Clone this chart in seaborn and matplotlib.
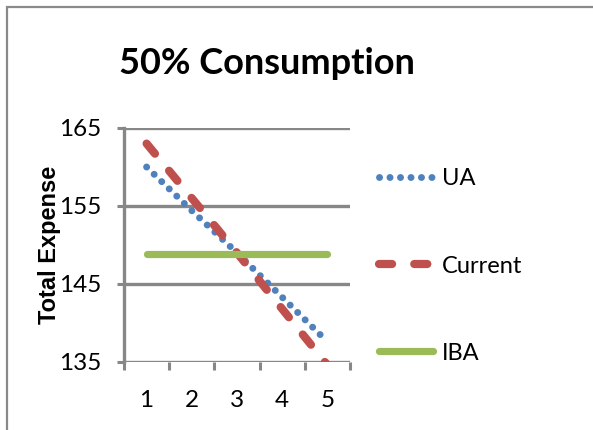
import matplotlib
matplotlib.use("Agg")
import matplotlib.pyplot as plt
import matplotlib.patches as mpatches
import seaborn as sns
import pandas as pd

categories = [1, 2, 3, 4, 5]
ua = [160.0, 154.4, 149.0, 143.3, 137.6]
current = [163.0, 156.0, 149.0, 141.8, 134.6]
iba = [148.8, 148.8, 148.8, 148.8, 148.8]
y_ticks = [135, 145, 155, 165]
title = "50% Consumption"
y_label = "Total Expense"

sns.set_style("white")
plt.rcParams["font.family"] = ["Lato", "DejaVu Sans"]
plt.rcParams["text.color"] = "black"
plt.rcParams["xtick.color"] = "black"
plt.rcParams["ytick.color"] = "black"
plt.rcParams["axes.labelcolor"] = "black"

W, H = 593, 430
fig = plt.figure(figsize=(W / 100, H / 100), dpi=100)
ax = fig.add_axes([124 / W, 1 - 362 / H, (350 - 124) / W, (362 - 128) / H])

grey = "#878787"
df = pd.DataFrame({"cat": categories, "UA": ua, "Current": current, "IBA": iba})

sns.lineplot(data=df, x="cat", y="UA", ax=ax, color="#4F81BD", lw=5.0, label="UA")
sns.lineplot(data=df, x="cat", y="Current", ax=ax, color="#C0504D", lw=5.9, label="Current")
sns.lineplot(data=df, x="cat", y="IBA", ax=ax, color="#9BBB59", lw=5.2, label="IBA")
lines = ax.get_lines()
lines[0].set_linestyle((0, (0.01, 1.5)))
lines[0].set_dash_capstyle("round")
lines[1].set_linestyle((0, (1.6, 2.7)))
lines[1].set_dash_capstyle("round")
lines[2].set_solid_capstyle("round")

ax.set_xlim(0.5, 5.5)
ax.set_ylim(135, 165)
ax.set_yticks(y_ticks)
ax.set_xticks(categories)
ax.set_xticks([0.5, 1.5, 2.5, 3.5, 4.5, 5.5], minor=True)
ax.tick_params(axis="x", which="major", length=0, pad=20, labelsize=17.5)
ax.tick_params(axis="x", which="minor", length=6, width=2.2, color=grey, direction="out", bottom=True)
ax.tick_params(axis="y", which="major", length=5, width=2.2, color=grey, direction="out", pad=11, labelsize=17.5, left=True)
ax.grid(axis="y", color=grey, lw=2.4)
ax.grid(axis="x", visible=False)
for s in ["top", "right", "bottom"]:
    ax.spines[s].set_visible(False)
ax.spines["left"].set_color(grey)
ax.spines["left"].set_linewidth(2.4)
ax.set_xlabel("")
ax.set_ylabel(y_label, fontsize=17, fontweight="bold", family=["Liberation Sans", "DejaVu Sans"])
ax.yaxis.set_label_coords(-0.28, 0.5)

leg = ax.legend(loc="upper left", bbox_to_anchor=(370 / W, 1 - 159 / H), bbox_transform=fig.transFigure,
                frameon=False, fontsize=17, handlelength=2.25, labelspacing=2.8, handletextpad=0.4,
                borderaxespad=0)

fig.text(267 / W, 1 - 64 / H, title, ha="center", va="center", fontsize=26, fontweight="bold")

fig.patches.append(mpatches.Rectangle((7 / W, -0.1), 1.2, 1 - 7 / H + 0.1, transform=fig.transFigure,
                                      fill=False, edgecolor="#8a8a8a", lw=1.6))
fig.savefig("out.png", dpi=100)
